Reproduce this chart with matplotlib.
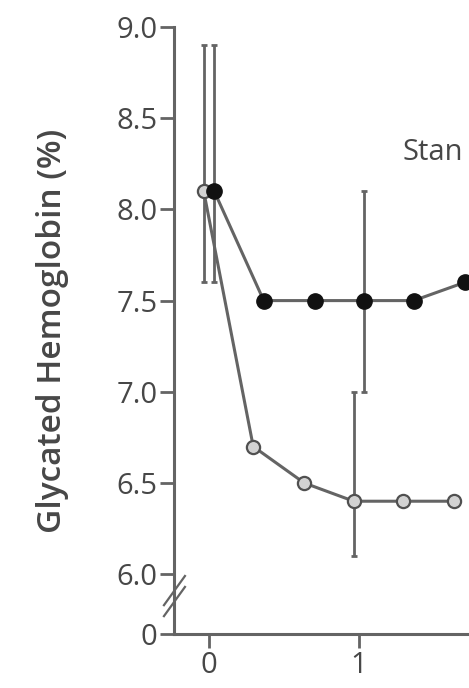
import matplotlib.pyplot as plt

# время (годы) и значения HbA1c
months = [0, 0.33, 0.67, 1.0, 1.33, 1.67]
standard = [8.1, 7.5, 7.5, 7.5, 7.5, 7.6]
intensive = [8.1, 6.7, 6.5, 6.4, 6.4, 6.4]

# интервалы (нижняя/верхняя граница) для отдельных точек
std_err_idx = [0, 3]
std_low = [7.6, 7.0]
std_high = [8.9, 8.1]
int_err_idx = [0, 3]
int_low = [7.6, 6.1]
int_high = [8.9, 7.0]

y_ticks = [6.0, 6.5, 7.0, 7.5, 8.0, 8.5, 9.0]
x_ticks = [0, 1]

Y_ZERO = 5.672  # где на оси стоит "0" после разрыва
SHIFT = 0.035
GRAY = '#646464'
TXT = '#474747'

fig = plt.figure(figsize=(4.69, 6.88), dpi=100)
ax = fig.add_axes([174 / 469, 1 - 634 / 688, 1 - 174 / 469, (634 - 27) / 688])

xs_std = [m + SHIFT for m in months]
xs_int = [m - SHIFT for m in months]

# усы
for i, lo, hi in zip(std_err_idx, std_low, std_high):
    ax.errorbar([xs_std[i]], [standard[i]],
                yerr=[[standard[i] - lo], [hi - standard[i]]],
                fmt='none', ecolor=GRAY, elinewidth=2, capsize=2.5, capthick=2, zorder=1)
for i, lo, hi in zip(int_err_idx, int_low, int_high):
    ax.errorbar([xs_int[i]], [intensive[i]],
                yerr=[[intensive[i] - lo], [hi - intensive[i]]],
                fmt='none', ecolor=GRAY, elinewidth=2, capsize=2.5, capthick=2, zorder=1)

ax.plot(xs_int, intensive, '-', color=GRAY, lw=2.2, zorder=2)
ax.plot(xs_int, intensive, 'o', ms=9.5, mfc='#d2d2d2', mec='#505050', mew=1.6, zorder=3)
ax.plot(xs_std, standard, '-', color=GRAY, lw=2.2, zorder=2)
ax.plot(xs_std, standard, 'o', ms=11, mfc='#111111', mec='#111111', zorder=3)

# подпись обрезана краем рисунка, как в оригинале
ax.text(1.29, 8.31, 'Stan', fontsize=21, color=TXT, va='center',
        family='Open Sans', clip_on=False)

ax.set_xlim(-0.233, 1.733)
ax.set_ylim(Y_ZERO, 9.0)

ax.set_yticks([Y_ZERO] + y_ticks)
ax.set_yticklabels(['0'] + ['%.1f' % v for v in y_ticks])
ax.set_xticks(x_ticks)
ax.set_xticklabels([str(v) for v in x_ticks])

for s in ['top', 'right']:
    ax.spines[s].set_visible(False)
for s in ['left', 'bottom']:
    ax.spines[s].set_color(GRAY)
    ax.spines[s].set_linewidth(2.2)

ax.tick_params(axis='both', colors=GRAY, width=2, length=10, labelcolor=TXT,
               labelsize=21, pad=2)
for lab in ax.get_xticklabels() + ax.get_yticklabels():
    lab.set_family('Open Sans')

ax.set_ylabel('Glycated Hemoglobin (%)', fontsize=24, color=TXT, family='Open Sans',
              fontweight='semibold', labelpad=34)

# значок разрыва оси
for dy in [-0.03, 0.03]:
    ax.plot([-0.3, -0.16], [5.80 + dy, 5.96 + dy], color=GRAY, lw=1.6,
            clip_on=False, zorder=5)

fig.savefig('out.png', dpi=100)
